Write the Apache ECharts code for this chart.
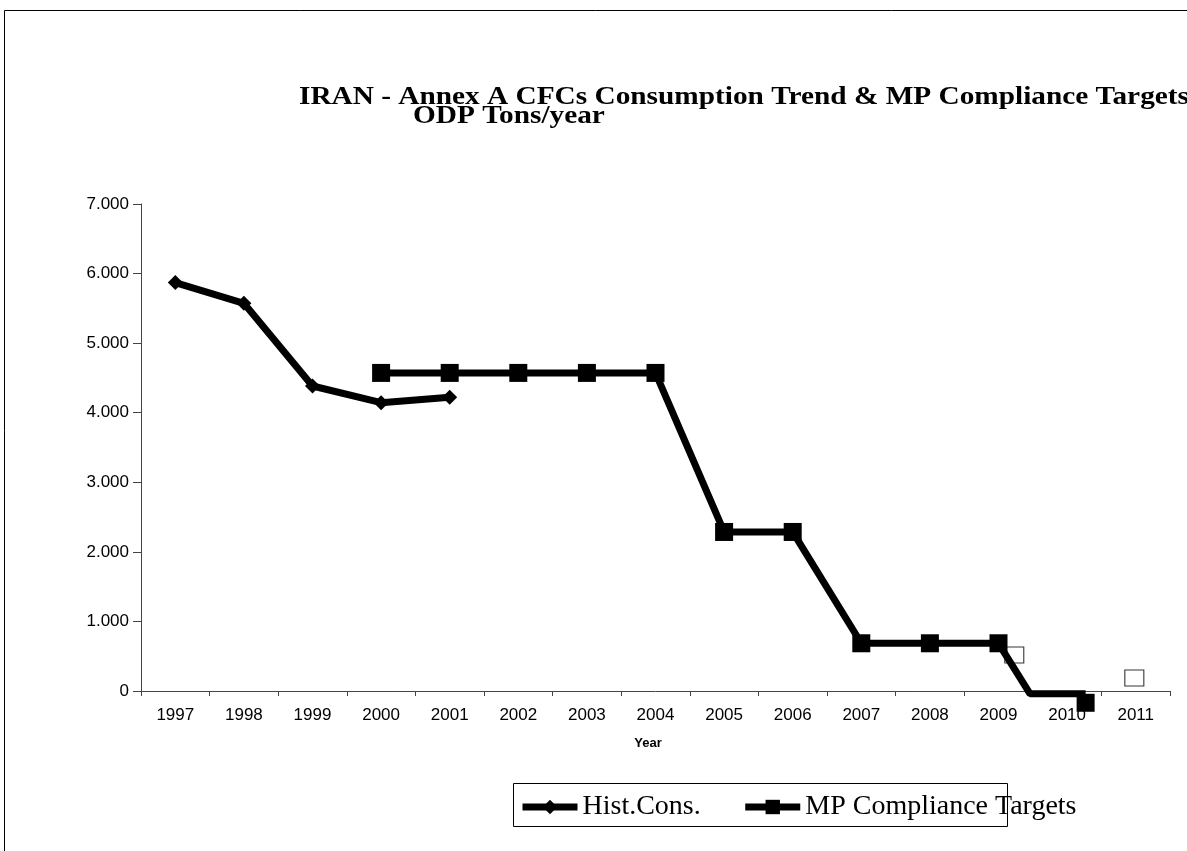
<!DOCTYPE html>
<html>
<head>
<meta charset="utf-8">
<script src="https://cdn.jsdelivr.net/npm/echarts@6/dist/echarts.min.js"></script>
<style>
  html, body { margin: 0; padding: 0; background: #fff; }
  #chart { width: 1187px; height: 851px; }
</style>
</head>
<body>
<div id="chart"></div>
<script>
// Category labels along the bottom axis
const yearLabels = ['1997', '1998', '1999', '2000', '2001', '2002', '2003', '2004',
                    '2005', '2006', '2007', '2008', '2009', '2010', '2011'];

// Historic consumption (ODP tons)
const histYears = [1997, 1998, 1999, 2000, 2001];
const histValues = [5870, 5573, 4384, 4144, 4222];

// Montreal Protocol compliance targets (ODP tons)
const targetYears = [2000, 2001, 2002, 2003, 2004, 2005, 2006, 2007, 2008, 2009, 2009.46, 2010.27];
const targetValues = [4572, 4572, 4572, 4572, 4572, 2286, 2286, 686, 686, 686, -40, -40];

// Additional unlabelled points drawn as hollow squares
const extraYears = [2009.23, 2010.98];
const extraValues = [517, 187];

const yTicks = { min: 0, max: 7000, step: 1000 };

const titleLines = ['IRAN - Annex A CFCs Consumption Trend & MP Compliance Targets', 'ODP Tons/year'];

function thousands(v) {
  return String(v).replace(/\B(?=(\d{3})+(?!\d))/g, '.');
}

const chart = echarts.init(document.getElementById('chart'), null, { renderer: 'canvas' });

const targetData = targetYears.map(function (x, i) {
  const item = { value: [x, targetValues[i]] };
  if (i === targetYears.length - 2) item.symbol = 'none';
  if (i === targetYears.length - 1) item.symbolOffset = [0, 9];
  return item;
});

const serif = '"Liberation Serif", "Times New Roman", serif';
const sans = '"Liberation Sans", Arial, sans-serif';

const option = {
  backgroundColor: '#ffffff',
  animation: false,
  graphic: [
    { type: 'line', shape: { x1: 4.5, y1: 10.5, x2: 1187, y2: 10.5 }, style: { stroke: '#000', lineWidth: 1 } },
    { type: 'line', shape: { x1: 4.5, y1: 10.5, x2: 4.5, y2: 851 }, style: { stroke: '#000', lineWidth: 1 } },
    {
      type: 'text', x: 299, y: 110, scaleX: 1.127,
      style: { text: titleLines[0], font: 'bold 26px ' + serif,
               fill: '#000', textAlign: 'left', textVerticalAlign: 'bottom' }
    },
    {
      type: 'text', x: 413, y: 129, scaleX: 1.127,
      style: { text: titleLines[1], font: 'bold 26px ' + serif,
               fill: '#000', textAlign: 'left', textVerticalAlign: 'bottom' }
    },
    {
      type: 'text', x: 648, y: 743,
      style: { text: 'Year', font: 'bold 13px ' + sans,
               fill: '#000', textAlign: 'center', textVerticalAlign: 'middle' }
    },
    { type: 'rect', shape: { x: 513.5, y: 783.5, width: 494, height: 43 },
      style: { fill: 'none', stroke: '#000', lineWidth: 1 }, z: 10 }
  ],
  legend: {
    data: ['Hist.Cons.', 'MP Compliance Targets'],
    left: 519,
    top: 793,
    padding: 0,
    itemWidth: 55,
    itemHeight: 18,
    itemGap: 41,
    lineStyle: { width: 7 },
    textStyle: { fontFamily: serif, fontSize: 28, color: '#000' }
  },
  grid: { left: 141, top: 204, right: 17, bottom: 160, containLabel: false },
  xAxis: [
    {
      type: 'category',
      data: yearLabels,
      boundaryGap: true,
      axisLine: { show: true, lineStyle: { color: '#444', width: 1 } },
      axisTick: { show: true, length: 5, lineStyle: { color: '#444' } },
      axisLabel: { margin: 16, fontFamily: sans, fontSize: 17, color: '#000' },
      splitLine: { show: false }
    },
    {
      type: 'value',
      min: 1996.5,
      max: 2011.5,
      show: false,
      splitLine: { show: false }
    }
  ],
  yAxis: {
    type: 'value',
    min: yTicks.min,
    max: yTicks.max,
    interval: yTicks.step,
    axisLine: { show: true, lineStyle: { color: '#444', width: 1 } },
    axisTick: { show: true, length: 8, lineStyle: { color: '#444' } },
    axisLabel: { margin: 12, fontFamily: sans, fontSize: 17, color: '#000',
                 formatter: thousands },
    splitLine: { show: false }
  },
  series: [
    {
      name: 'Hist.Cons.',
      type: 'line',
      xAxisIndex: 1,
      data: histYears.map(function (x, i) { return [x, histValues[i]]; }),
      symbol: 'diamond',
      symbolSize: 15,
      showAllSymbol: true,
      lineStyle: { color: '#000', width: 7 },
      itemStyle: { color: '#000' },
      clip: false,
      z: 3
    },
    {
      name: 'MP Compliance Targets',
      type: 'line',
      xAxisIndex: 1,
      data: targetData,
      symbol: 'rect',
      symbolSize: 18,
      showAllSymbol: true,
      lineStyle: { color: '#000', width: 7 },
      itemStyle: { color: '#000' },
      clip: false,
      z: 3
    },
    {
      name: 'extra',
      type: 'scatter',
      xAxisIndex: 1,
      data: extraYears.map(function (x, i) { return [x, extraValues[i]]; }),
      symbol: 'rect',
      symbolSize: [19, 16],
      itemStyle: { color: '#fff', borderColor: '#000', borderWidth: 1 },
      clip: false,
      z: 2
    }
  ]
};

chart.setOption(option);
</script>
</body>
</html>
